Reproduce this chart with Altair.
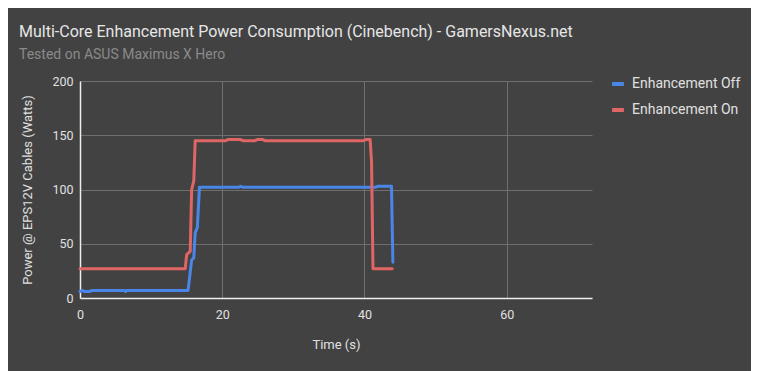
import altair as alt
import pandas as pd

off_t = [0, 0.4, 0.6, 1.4, 1.6, 6.2, 6.4, 6.6, 15.2, 15.7, 16.0, 16.2, 16.5, 16.8,
         22.3, 22.6, 22.9, 41.5, 41.9, 43.8, 44.0]
off_v = [6, 7, 6, 6, 7, 7, 6, 7, 7, 35, 37, 60, 65, 102,
         102, 103, 102, 102, 103, 103, 33]

on_t = [0, 14.8, 15.0, 15.5, 15.7, 16.0, 16.2, 20.5, 20.8, 22.6, 22.9, 24.6, 24.9,
        25.7, 26.0, 39.9, 40.2, 40.8, 41.0, 41.2, 43.9]
on_v = [27, 27, 40, 43, 100, 108, 145, 145, 146, 146, 145, 145, 146,
        146, 145, 145, 146, 146, 125, 27, 27]

series = ["Enhancement Off", "Enhancement On"]
colors = ["#4a86e8", "#e06666"]

rows = []
for i, (t, v) in enumerate(zip(off_t, off_v)):
    rows.append({"t": t, "v": v, "s": series[0], "o": i})
for i, (t, v) in enumerate(zip(on_t, on_v)):
    rows.append({"t": t, "v": v, "s": series[1], "o": i})
df = pd.DataFrame(rows)

font = "Roboto"

chart = alt.Chart(df).mark_line(strokeWidth=3, strokeJoin="round", strokeCap="round").encode(
    x=alt.X("t:Q", title="Time (s)",
            scale=alt.Scale(domain=[0, 72], nice=False),
            axis=alt.Axis(values=[0, 20, 40, 60], format="d", labelFlush=False)),
    y=alt.Y("v:Q", title="Power @ EPS12V Cables (Watts)",
            scale=alt.Scale(domain=[0, 200], nice=False),
            axis=alt.Axis(values=[0, 50, 100, 150, 200], labelFlush=False)),
    color=alt.Color("s:N", scale=alt.Scale(domain=series, range=colors),
                    legend=alt.Legend(title=None, orient="none", legendX=530, legendY=-5,
                                      symbolType="stroke", symbolStrokeWidth=4,
                                      symbolSize=140, labelFontSize=14,
                                      labelColor="#e0e0e0", labelFont=font,
                                      rowPadding=10, labelOffset=6)),
    order="o:Q",
).properties(
    width=512, height=217,
    padding={"left": 72, "top": 73, "right": 159, "bottom": 73},
    autosize="none",
    background="#424242",
    title=alt.TitleParams(
        "Multi-Core Enhancement Power Consumption (Cinebench) - GamersNexus.net",
        subtitle="Tested on ASUS Maximus X Hero",
        anchor="start", frame="group", dx=-61, offset=13,
        font=font, fontSize=16, fontWeight="normal", color="#e6e6e6",
        subtitleFont=font, subtitleFontSize=14, subtitleColor="#8a8a8a",
        subtitlePadding=8,
    ),
).configure_view(stroke=None).configure_axis(
    labelFont=font, labelFontSize=12.5, labelColor="#e0e0e0",
    titleFont=font, titleFontSize=13, titleColor="#e0e0e0", titleFontWeight="normal",
    gridColor="#6f6f6f", gridWidth=1, tickSize=0,
    domainColor="#eeeeee", domainWidth=1.5,
).configure_axisX(labelPadding=10, titlePadding=18, domain=True).configure_axisY(
    labelPadding=7, titlePadding=17)

chart.save("out.html", embed_options={"renderer": "svg", "actions": False})
